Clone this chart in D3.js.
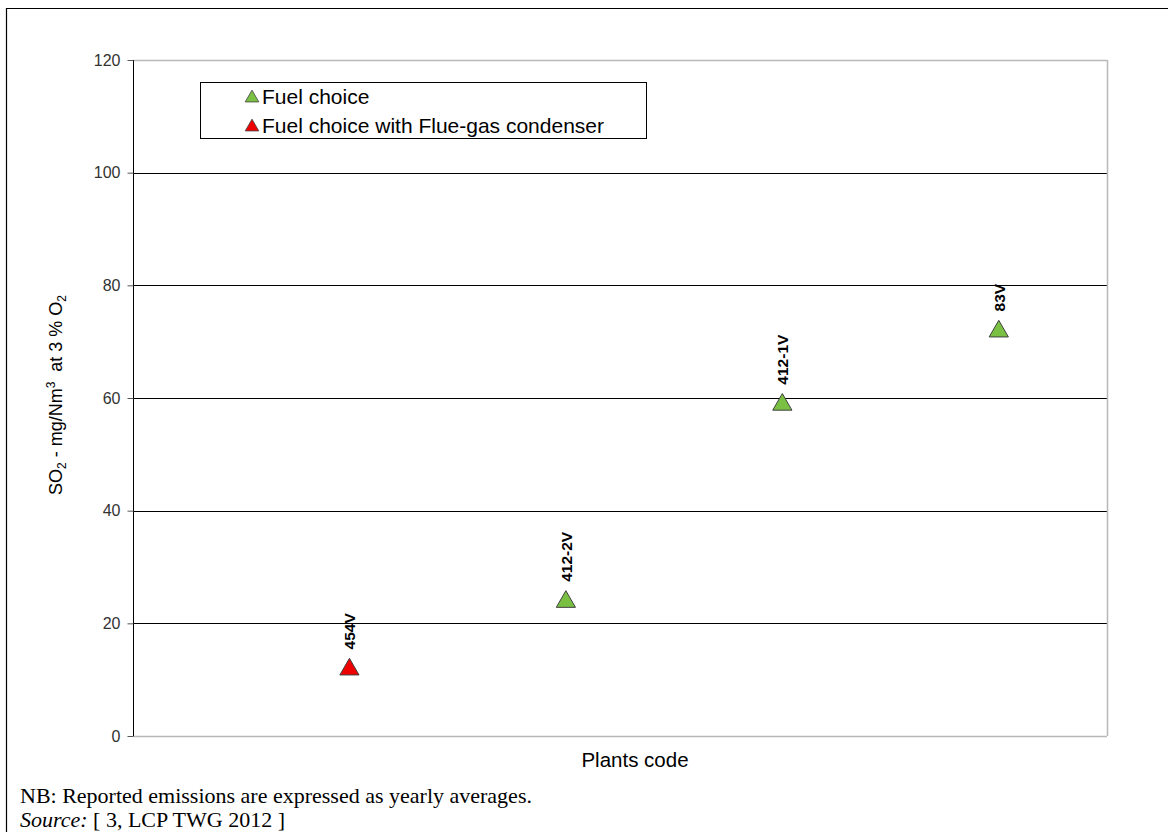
<!DOCTYPE html>
<html><head><meta charset="utf-8">
<script src="https://cdn.jsdelivr.net/npm/d3@7"></script>
<style>body{margin:0;background:#fff}svg{display:block}</style>
</head><body>
<script>
const plants = ["454V", "412-2V", "412-1V", "83V"];
const values = [12, 24, 59, 72];
const groups = ["condenser", "fuel", "fuel", "fuel"];
const yTicks = [0, 20, 40, 60, 80, 100, 120];
const seriesNames = ["Fuel choice", "Fuel choice with Flue-gas condenser"];
const seriesColors = {fuel: "#7ac143", condenser: "#ee0000"};

const W = 1168, H = 832;
const m = {left: 133, right: 1107, top: 60, bottom: 736};
const SANS = "Arial, 'Liberation Sans', sans-serif";
const SERIF = "'Times New Roman', 'Liberation Serif', serif";
const svg = d3.select("body").append("svg").attr("width", W).attr("height", H);

// outer frame
svg.append("path").attr("d", `M6.5,${H} L6.5,8.5 L${W},8.5`).attr("fill", "none").attr("stroke", "#000").attr("stroke-width", 1.2);

const x = d3.scaleLinear().domain([0, plants.length + 0.5]).range([m.left, m.right]);
const y = d3.scaleLinear().domain([0, 120]).range([m.bottom, m.top]);

// gridlines
svg.append("g").selectAll("line").data(yTicks).join("line")
  .attr("x1", m.left).attr("x2", m.right)
  .attr("y1", d => Math.round(y(d)) + 0.5).attr("y2", d => Math.round(y(d)) + 0.5)
  .attr("stroke", d => (d === 0 || d === 120) ? "#b8b8b8" : "#000").attr("stroke-width", d => (d === 0 || d === 120) ? 1.5 : 1);
// right border
svg.append("line").attr("x1", m.right + 0.5).attr("x2", m.right + 0.5).attr("y1", m.top).attr("y2", m.bottom)
  .attr("stroke", "#b8b8b8").attr("stroke-width", 1.5);

// y axis
const yAxis = d3.axisLeft(y).tickValues(yTicks).tickSize(6).tickPadding(7);
const ga = svg.append("g").attr("transform", `translate(${m.left + 0.5},0)`).call(yAxis);
ga.attr("font-size", 16).attr("font-family", SANS);
ga.select(".domain").attr("stroke", "#000").attr("d", `M0,${m.top}V${m.bottom}`);
ga.selectAll(".tick line").attr("stroke", "#555");
ga.selectAll(".tick text").style("font-size", "16px").attr("fill", "#333");

// y label
const yl = svg.append("text").attr("transform", `translate(62,${(m.top + m.bottom) / 2 - 3}) rotate(-90)`)
  .attr("text-anchor", "middle").attr("font-family", SANS).attr("font-size", 18).attr("fill", "#000");
yl.append("tspan").text("SO");
yl.append("tspan").attr("font-size", 12).attr("dy", 4).text("2");
yl.append("tspan").attr("dy", -4).text(" - mg/Nm");
yl.append("tspan").attr("font-size", 12).attr("dy", -7).text("3");
yl.append("tspan").attr("dy", 7).text("\u00a0 at 3 % O");
yl.append("tspan").attr("font-size", 12).attr("dy", 4).text("2");

// x label
svg.append("text").attr("x", (m.left + m.right) / 2 + 15).attr("y", 767).attr("text-anchor", "middle")
  .attr("font-family", SANS).attr("font-size", 20.5).text("Plants code");

const tri = d3.symbol().type(d3.symbolTriangle).size(160);

// points
const pts = svg.append("g").selectAll("g").data(plants).join("g")
  .attr("transform", (d, i) => `translate(${x(i + 1)},${y(values[i])})`);
pts.append("path").attr("d", tri).attr("transform", "translate(0,1)")
  .attr("fill", (d, i) => seriesColors[groups[i]]).attr("stroke", "#404040").attr("stroke-width", 1);
pts.append("text").attr("transform", "translate(6,-19) rotate(-90)")
  .attr("font-family", SANS).attr("font-size", 15.5).attr("font-weight", "bold")
  .text(d => d);

// legend
const lg = svg.append("g");
lg.append("rect").attr("x", 200.5).attr("y", 82.5).attr("width", 446).attr("height", 56)
  .attr("fill", "#fff").attr("stroke", "#000").attr("stroke-width", 1);
const lkeys = ["fuel", "condenser"];
lkeys.forEach((k, i) => {
  const cy = 97 + i * 29;
  lg.append("path").attr("d", d3.symbol().type(d3.symbolTriangle).size(80))
    .attr("transform", `translate(252,${cy + 1})`).attr("fill", seriesColors[k]).attr("stroke", "#404040").attr("stroke-width", 0.8);
  lg.append("text").attr("x", 262).attr("y", cy + 7).attr("font-family", SANS)
    .attr("font-size", 21).text(seriesNames[i]);
});

// footnotes
svg.append("text").attr("x", 20).attr("y", 803).attr("font-family", SERIF)
  .attr("font-size", 22).text("NB: Reported emissions are expressed as yearly averages.");
const src = svg.append("text").attr("x", 20).attr("y", 827).attr("font-family", SERIF).attr("font-size", 22);
src.append("tspan").attr("font-style", "italic").text("Source:");
src.append("tspan").text(" [ 3, LCP TWG 2012 ]");
</script>
</body></html>
